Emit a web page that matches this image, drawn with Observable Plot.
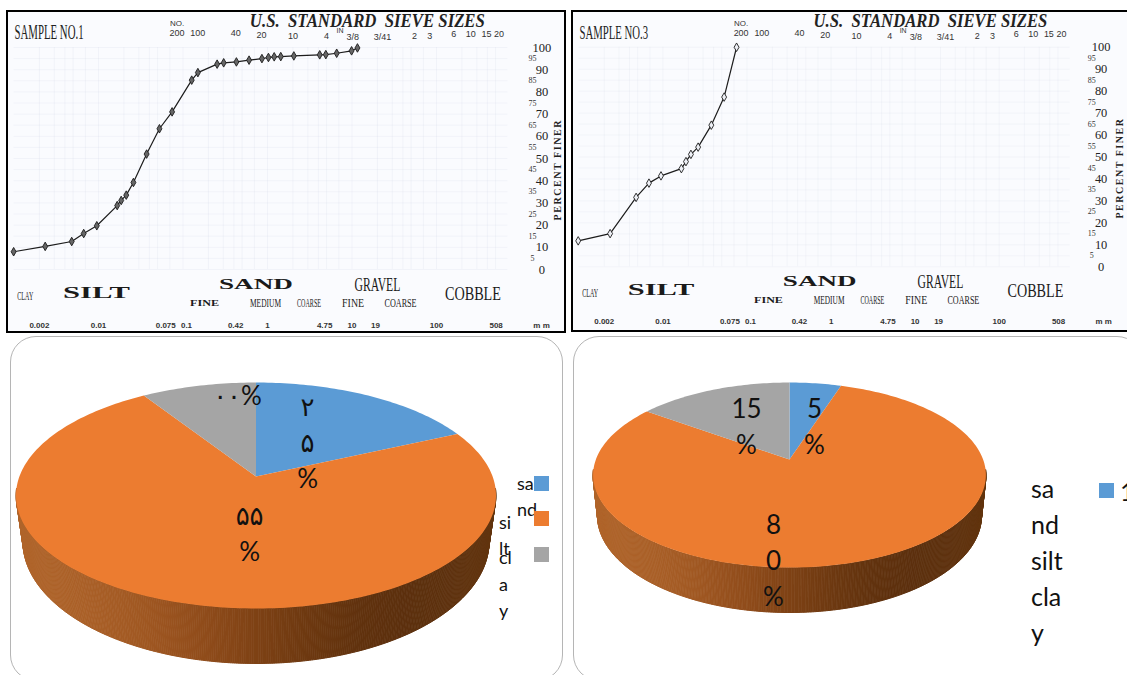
<!DOCTYPE html>
<html><head><meta charset="utf-8">
<script src="https://cdn.jsdelivr.net/npm/d3@7"></script>
<script src="https://cdn.jsdelivr.net/npm/@observablehq/plot@0.6"></script>
<style>
html,body{margin:0;padding:0;background:#fff;width:1127px;height:675px;overflow:hidden}
.abs{position:absolute}
.sheet{position:absolute;box-sizing:border-box;border:2px solid #000;background:#fafbfe}
.card{position:absolute;box-sizing:border-box;border:1.5px solid #b5b5b5;border-radius:26px;background:#fff}
.abs svg{display:block;overflow:visible;background:transparent}
.lg{position:absolute;white-space:pre;color:#111;font-family:Lato,"Noto Sans","DejaVu Sans",sans-serif}
.sw{position:absolute;width:15px;height:15px}
</style></head><body>
<div class="sheet" style="left:6px;top:10px;width:560px;height:323px"></div>
<div class="sheet" style="left:571px;top:10px;width:570px;height:322px"></div>
<div class="card" style="left:10px;top:336px;width:553px;height:345px"></div>
<div class="card" style="left:573px;top:336px;width:570px;height:345px"></div>
<div id="a" class="abs" style="left:0;top:0"></div>
<div id="b" class="abs" style="left:565px;top:0"></div>
<div id="c" class="abs" style="left:0;top:335px"></div>
<div id="d" class="abs" style="left:565px;top:335px"></div>
<div id="legends"></div>
<script>
// grading curves: grain size (mm) and percent finer
const sample1Mm = [0.00099,0.00234,0.00482,0.00668,0.00955,0.01665,0.01857,0.0213,0.0259,0.0371,0.0526,0.0743,0.1268,0.150,0.2535,0.303,0.4285,0.6053,0.859,1.026,1.20,1.436,2.05,4.15,4.90,6.59,9.89,11.6];
const sample1Finer = [8.0,10.4,12.6,16.2,19.7,28.8,31.1,33.5,39.2,52,63.4,71,85.3,88.7,92.5,93.1,93.5,94.3,95,95.5,95.8,95.9,96.2,96.7,96.8,97.4,98.5,99.8];
const sample3Mm = [0.00098,0.00235,0.00479,0.00681,0.00947,0.01656,0.01877,0.0215,0.0262,0.0376,0.0534,0.0751];
const sample3Finer = [11.8,15.1,31.6,38.1,41.4,44.7,47.9,51.2,54.5,64.5,77.3,100];

// sieve numbers along the top, with their openings in mm
const sieveText = ["200","100","40","20","10","4","3/8","3/41","2","3","6","10","15","20"];
const sieveMm = [0.085,0.15,0.42,0.85,2,5,10.2,23,55,83,160,254,390,550];
const sieveRow = [106.3,106.3,106.3,105.4,105,105,104.5,104.5,105,105,105.9,105.9,105.9,105.9];

// millimetre row along the bottom (0.075 and 0.1 are printed apart from their true places)
const mmSpots = [0.002,0.01,0.0625,0.11,0.42,1,4.75,10,19,100,508];
const mmText = ["0.002","0.01","0.075","0.1","0.42","1","4.75","10","19","100","508"];

// soil classes under the chart
const zoneText = ["SILT","SAND","GRAVEL","COBBLE","CLAY","FINE","MEDIUM","COARSE","FINE","COARSE"];
const zoneMm = [0.00947,0.731,20,270,0.00136,0.18,0.947,3.1,10.3,37.5];
const zoneRow = [-10.4,-6.8,-7.2,-11.1,-12.2,-15.3,-15.3,-15.3,-14.9,-14.9];
const zoneSize = [16.5,15,18,19,12,9,12,12,13,13];
const zoneWide = [67,74,46,56,16,29,31,24,22,32];
const zoneBold = [700,700,400,400,400,700,400,400,400,400];

const percentTicks = [0,5,10,15,20,25,30,35,40,45,50,55,60,65,70,75,80,85,90,95,100];
const gridMm = [0.002,0.003,0.004,0.005,0.007,0.01,0.02,0.03,0.04,0.05,0.07,0.1,0.2,0.3,0.4,0.5,0.7,1,2,3,4,5,7,10,20,30,40,50,70,100,200,300,400,500];

// pies: slice shares and printed labels
const soils = ["sand","silt","clay"];
const soilColors = ["#5b9bd5","#ec7c30","#a5a5a5"];
const pie1Shares = [18.2,72.7,9.1];
const pie1Labels = ["۲\n۵\n%","۵۵\n%","۰۰%"];
const pie1LabelX = [0.218,-0.027,-0.078];
const pie1LabelY = [0.33,-0.50,0.756];
const pie2Shares = [5,80,15];
const pie2Labels = ["5\n%","8\n0\n%","15\n%"];
const pie2LabelX = [0.129,-0.083,-0.222];
const pie2LabelY = [0.389,-1.10,0.389];
const wallShades = ["#b0652b","#a85e26","#8f4a19","#6c380f","#572c0c","#63350f"];

const serif = '"Liberation Serif","DejaVu Serif",serif';
const sans = '"Liberation Sans",Arial,sans-serif';

function grading(el, mm, finer, name, y0, y100, tickShift, dotFill){
  const tbl = (keys, ...cols) => keys.map((k,i)=>({k, i, ...Object.fromEntries(cols.map(([n,v])=>[n,v[i]]))}));
  const zones = tbl(zoneText,["m",zoneMm],["p",zoneRow],["s",zoneSize]);
  const sieves = tbl(sieveText,["m",sieveMm],["p",sieveRow]);
  const mmRow = tbl(mmText,["m",mmSpots]);
  const pts = mm.map((m,i)=>({m,p:finer[i]}));
  const chart = Plot.plot({
    width:565,height:335,margin:0,
    style:{background:"transparent",overflow:"visible"},
    x:{type:"log",domain:[0.001,1000],range:[13.5,520.5],axis:null},
    y:{domain:[0,100],range:[y0,y100],axis:null},
    marks:[
      Plot.ruleX(gridMm,{x:d=>d,y1:0,y2:100,stroke:"#c6cde0",strokeOpacity:0.22,strokeWidth:0.7}),
      Plot.ruleY(percentTicks,{y:d=>d,x1:0.001,x2:700,stroke:"#c6cde0",strokeOpacity:0.22,strokeWidth:0.7}),
      Plot.line(pts,{x:"m",y:"p",stroke:"#1c1c1c",strokeWidth:1.2}),
      Plot.dot(pts,{x:"m",y:"p",symbol:"diamond",r:2.6,stroke:"#1c1c1c",strokeWidth:0.9,fill:dotFill}),
      Plot.text(percentTicks.filter(d=>d%10===0),{x:()=>1770,y:d=>d,text:d=>String(d),dx:tickShift,fontFamily:serif,fontSize:12.5,fill:"#222"}),
      Plot.text(percentTicks.filter(d=>d%10!==0),{x:()=>1368,y:d=>d,text:d=>String(d),dx:tickShift,fontFamily:serif,fontSize:8,fill:"#333"}),
      Plot.text(sieves,{x:"m",y:"p",text:"k",fontFamily:sans,fontSize:9,fill:"#333"}),
      Plot.text(["NO."],{x:()=>0.085,y:()=>110.8,text:d=>d,fontFamily:sans,fontSize:8,fill:"#333"}),
      Plot.text(["IN"],{x:()=>7.2,y:()=>107.4,text:d=>d,fontFamily:sans,fontSize:7,fill:"#333"}),
      Plot.text(mmRow,{x:"m",y:()=>-25.1,text:"k",fontFamily:sans,fontWeight:700,fontSize:8,fill:"#333"}),
      Plot.text(["m m"],{x:()=>1750,y:()=>-25.1,text:d=>d,fontFamily:sans,fontWeight:700,fontSize:8,fill:"#333"}),
      Plot.text(zones,{x:"m",y:"p",text:"k",fontSize:"s",fontFamily:serif,fill:"#1a1a1a",className:"zone"}),
      Plot.text(["U.S.  STANDARD  SIEVE SIZES"],{x:()=>15.2,y:()=>112,text:d=>d,fontFamily:serif,fontStyle:"italic",fontWeight:700,fontSize:18,fill:"#222",className:"wide235"}),
      Plot.text([name],{x:()=>0.0026,y:()=>106.8,text:d=>d,fontFamily:serif,fontSize:20,fill:"#222",className:"wide69"}),
      Plot.text(["PERCENT FINER"],{x:()=>2754,y:()=>44.6,text:d=>d,rotate:-90,fontFamily:serif,fontWeight:700,fontSize:10,fill:"#222",className:"wide100"})
    ]
  });
  document.getElementById(el).append(chart);
  const svg = d3.select(chart);
  const setW = (sel,w,how="spacingAndGlyphs")=>sel.attr("textLength",w).attr("lengthAdjust",how);
  svg.selectAll(".zone text").each(function(d,i){
    const n = d3.select(this);
    setW(n,zoneWide[i]);
    n.style("font-weight",zoneBold[i]);
  });
  setW(svg.selectAll(".wide235 text"),235);
  setW(svg.selectAll(".wide69 text"),69);
  setW(svg.selectAll(".wide100 text"),100,"spacing");
}

function pie3d(el, w, shares, labels, lx, ly, g){
  const arcs = d3.pie().sort(null)(shares);
  const rim = [];
  arcs.forEach((a,i)=>{
    const steps = Math.max(2,Math.ceil((a.endAngle-a.startAngle)/0.02));
    rim.push({s:soils[i],X:0,Y:0});
    for(let k=0;k<=steps;k++){
      const t=a.startAngle+(a.endAngle-a.startAngle)*k/steps;
      const u=Math.sin(t),v=Math.cos(t),q=1+g.c*v;
      rim.push({s:soils[i],X:u/q,Y:v/q});
    }
  });
  const wall=[];
  const shade=d3.interpolateRgbBasis(wallShades);
  const n=360, from=Math.PI*0.98, to=Math.PI*2.02;
  for(let k=0;k<n;k++){
    const t0=from+(to-from)*k/n, t1=from+(to-from)*(k+1)/n;
    const c=shade(Math.max(0,Math.min(1,(Math.cos(t0)+1)/2)));
    const top=t=>({X:g.rT*Math.cos(t),Y:g.cT+g.ryT*Math.sin(t)});
    const bot=t=>({X:g.rB*Math.cos(t),Y:g.cB+g.ryB*Math.sin(t)});
    [top(t0),top(t1),bot(t1),bot(t0)].forEach(p=>wall.push({...p,id:k,c}));
  }
  const lab=labels.map((t,i)=>({t,X:lx[i],Y:ly[i]}));
  const chart=Plot.plot({
    width:w,height:340,margin:0,
    style:{background:"transparent",overflow:"visible"},
    x:{domain:[-1,1],range:[g.ax-g.sx,g.ax+g.sx],axis:null},
    y:{domain:[-1,1],range:[g.ay+g.sy,g.ay-g.sy],axis:null},
    color:{domain:soils,range:soilColors},
    marks:[
      Plot.line(wall,{x:"X",y:"Y",z:"id",fill:d=>d.c,stroke:d=>d.c,strokeWidth:1}),
      Plot.line(rim,{x:"X",y:"Y",z:"s",fill:"s",stroke:"none"}),
      Plot.text(lab,{x:"X",y:"Y",text:"t",fontFamily:'Lato,"Noto Sans","DejaVu Sans",sans-serif',fontSize:g.fs,lineHeight:g.lh,fill:"#111"})
    ]
  });
  document.getElementById(el).append(chart);
}

grading("a",sample1Mm,sample1Finer,"SAMPLE NO.1",269,47,0,"#666");
grading("b",sample3Mm,sample3Finer,"SAMPLE NO.3",267.7,47,-3,"#eef0f6");
pie3d("c",570,pie1Shares,pie1Labels,pie1LabelX,pie1LabelY,
  {c:0.168,ax:255.5,ay:141,sx:236.6,sy:109.8,rT:1.014,ryT:1.029,cT:-0.173,rB:0.985,ryB:1.111,cB:-0.592,fs:26,lh:1.4});
pie3d("d",562,pie2Shares,pie2Labels,pie2LabelX,pie2LabelY,
  {c:0.168,ax:224,ay:124,sx:193.6,sy:89.9,rT:1.015,ryT:1.029,cT:-0.176,rB:0.992,ryB:1.079,cB:-0.623,fs:26,lh:1.4});

// legends as in the source: squeezed, wrapped entries
const lg=document.getElementById("legends");
const put=(cls,style,text)=>{const e=document.createElement("div");e.className=cls;e.style.cssText=style;if(text)e.textContent=text;lg.append(e);};
put("lg","left:517px;top:470px;font-size:18px;line-height:26px;","sa\nnd");
put("lg","left:499px;top:509px;font-size:18px;line-height:26px;","si\nlt");
put("lg","left:499px;top:544px;font-size:18px;line-height:26.5px;","cl\na\ny");
[476,511,547].forEach((t,i)=>put("sw",`left:534px;top:${t}px;background:${soilColors[i]}`));
put("lg","left:1031px;top:470px;font-size:25px;line-height:36px;","sa\nnd\nsilt\ncla\ny");
put("sw",`left:1099px;top:483px;background:${soilColors[0]}`);
put("lg","left:1120px;top:476px;font-size:25px;","1");
</script>
</body></html>
